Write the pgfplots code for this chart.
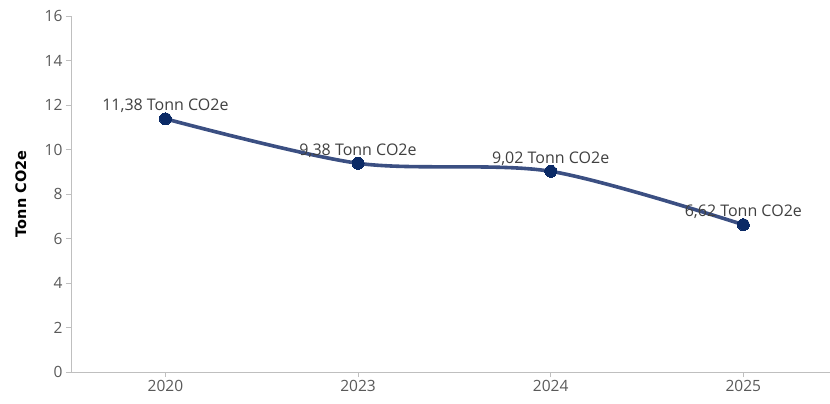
\documentclass[border=0pt]{standalone}
\usepackage{pgfplots}
\pgfplotsset{compat=1.18}
\usepackage{fontspec}
\setmainfont{Open Sans}
\newfontfamily\ylfont{DejaVu Sans}
\usetikzlibrary{calc}
\definecolor{linec}{HTML}{3B4F82}
\definecolor{markc}{HTML}{0B2A66}
\definecolor{axc}{HTML}{BFBFBF}
\definecolor{tickc}{HTML}{595959}
\definecolor{lblc}{HTML}{404040}
\begin{document}
\begin{tikzpicture}[x=1pt,y=1pt]
\begin{axis}[
  scale only axis, width=759pt, height=356pt,
  xmin=-0.49, xmax=3.45, ymin=0, ymax=16,
  xtick={0,1,2,3}, xticklabels={2020,2023,2024,2025},
  ytick={0,2,...,16},
  axis x line=bottom, axis y line=left,
  axis line style={draw=axc, line width=0.8pt, -},
  tick style={draw=axc, line width=0.8pt},
  tick align=outside, major tick length=5pt,
  ticklabel style={font=\fontsize{15.5}{17}\selectfont, text=tickc},
  /pgf/number format/assume math mode=true,
  ylabel={\ylfont\bfseries\fontsize{14.5}{16}\selectfont Tonn CO2e},
  ylabel style={at={(axis description cs:-0.066,0.5)}, anchor=center, text=black},
  clip=false,
  nodes near coords,
  point meta=explicit symbolic,
  every node near coord/.style={font=\fontsize{16}{18}\selectfont, text=lblc, anchor=south, yshift=2.5pt},
]
\addplot[linec, line width=3.6pt, smooth, tension=0.5, mark=*, mark size=6pt, mark options={fill=markc, draw=markc, line width=0pt}]
  coordinates {(0,11.38)[11,38 Tonn CO2e] (1,9.38)[9,38 Tonn CO2e] (2,9.02)[9,02 Tonn CO2e] (3,6.62)[6,62 Tonn CO2e]};
\end{axis}
\pgfresetboundingbox
\useasboundingbox ($(current axis.south west)+(-71pt,-32pt)$) rectangle ($(current axis.north east)+(0pt,16pt)$);
\end{tikzpicture}
\end{document}
